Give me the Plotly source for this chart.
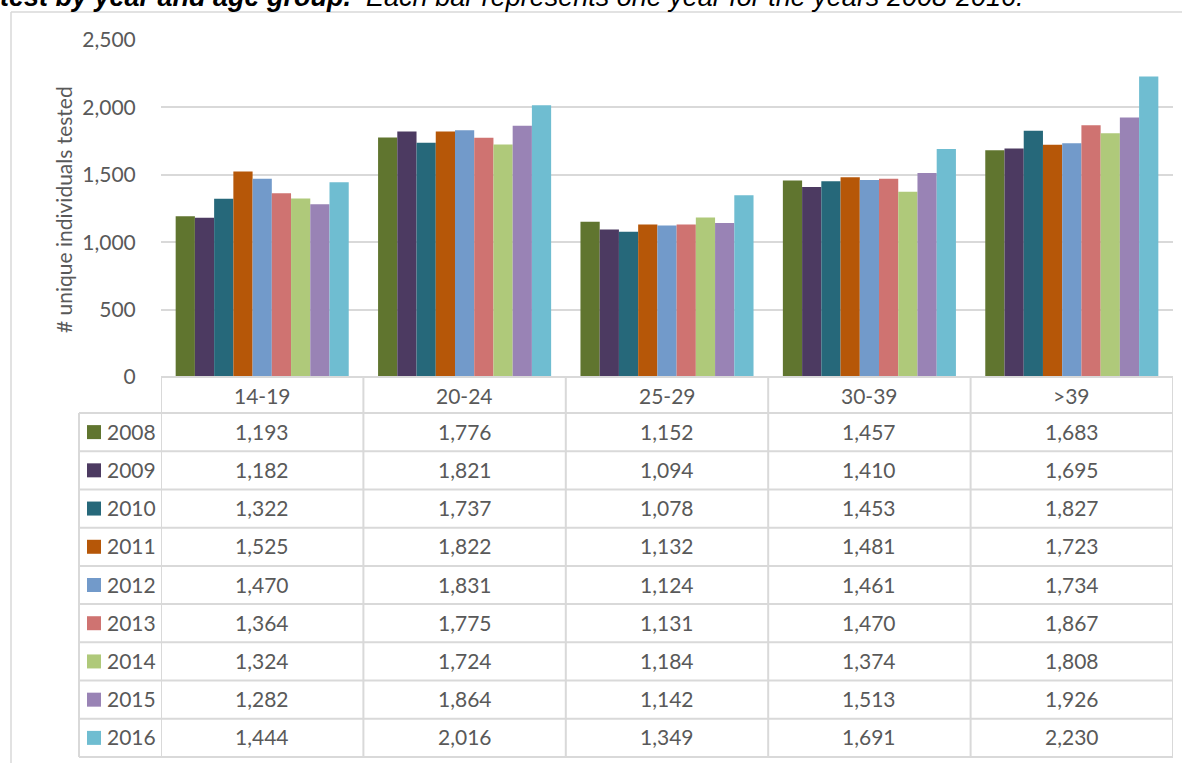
import plotly.graph_objects as go

# Data -------------------------------------------------------------------
age_groups = ["14-19", "20-24", "25-29", "30-39", ">39"]
years = ["2008", "2009", "2010", "2011", "2012", "2013", "2014", "2015", "2016"]

tested_2008 = [1193, 1776, 1152, 1457, 1683]
tested_2009 = [1182, 1821, 1094, 1410, 1695]
tested_2010 = [1322, 1737, 1078, 1453, 1827]
tested_2011 = [1525, 1822, 1132, 1481, 1723]
tested_2012 = [1470, 1831, 1124, 1461, 1734]
tested_2013 = [1364, 1775, 1131, 1470, 1867]
tested_2014 = [1324, 1724, 1184, 1374, 1808]
tested_2015 = [1282, 1864, 1142, 1513, 1926]
tested_2016 = [1444, 2016, 1349, 1691, 2230]

series = [tested_2008, tested_2009, tested_2010, tested_2011, tested_2012,
          tested_2013, tested_2014, tested_2015, tested_2016]

y_ticks = [0, 500, 1000, 1500, 2000, 2500]

colors = ["#60752F", "#4C3A61", "#26687A", "#B65708", "#729ACA",
          "#CF7371", "#AFC97A", "#9983B5", "#6FBDD1"]

# Layout helpers (pixel -> paper) ----------------------------------------
W, H = 1188, 763


def px(x):
    return x / W


def py(y):
    return 1 - y / H


PLOT_L, PLOT_R = 161, 1173
PLOT_T, PLOT_B = 40, 377
HEADER_B = 413
TABLE_B = 757
LEG_L = 79
ROW_H = (TABLE_B - HEADER_B) / len(years)

GRID = "#D9D9D9"
TXT = "#595959"
FONT = "Lato"
FS = 21

fig = go.Figure()
for yr, vals, col in zip(years, series, colors):
    fig.add_trace(go.Bar(x=age_groups, y=vals, name=yr,
                         marker=dict(color=col, line=dict(width=0))))

shapes = []
annotations = []


def hline(y, x0, x1):
    shapes.append(dict(type="line", xref="paper", yref="paper",
                       x0=px(x0), x1=px(x1), y0=py(y), y1=py(y),
                       line=dict(color=GRID, width=2)))


def vline(x, y0, y1, xref="paper"):
    xx = x if xref == "x" else px(x)
    shapes.append(dict(type="line", xref=xref, yref="paper",
                       x0=xx, x1=xx, y0=py(y0), y1=py(y1),
                       line=dict(color=GRID, width=2)))


def label(x, y, text, xref="paper", xanchor="center", **kw):
    annotations.append(dict(x=x, xref=xref, y=y, yref="paper",
                            xanchor=xanchor, yanchor="middle", text=text,
                            showarrow=False,
                            font=dict(family=FONT, size=FS, color=TXT), **kw))


# Outer frame (top and left edges)
shapes.append(dict(type="line", xref="paper", yref="paper",
                   x0=px(11), x1=px(1182), y0=py(12), y1=py(12),
                   line=dict(color=GRID, width=1.5)))
shapes.append(dict(type="line", xref="paper", yref="paper",
                   x0=px(11), x1=px(11), y0=py(12), y1=py(H + 5),
                   line=dict(color=GRID, width=1.5)))

# Data table grid
hline(PLOT_B, PLOT_L, PLOT_R)
for i in range(len(years) + 1):
    hline(HEADER_B + i * ROW_H, LEG_L, PLOT_R)
vline(LEG_L, HEADER_B, TABLE_B)
for k in range(len(age_groups) + 1):
    vline(k - 0.5, PLOT_B, TABLE_B, xref="x")

# Category header labels
for k, g in enumerate(age_groups):
    label(k, py((PLOT_B + HEADER_B) / 2), g, xref="x")

# Rows: legend key, year, values
for i, (yr, vals, col) in enumerate(zip(years, series, colors)):
    yc = HEADER_B + (i + 0.5) * ROW_H
    shapes.append(dict(type="rect", xref="paper", yref="paper",
                       x0=px(87), x1=px(101), y0=py(yc - 7), y1=py(yc + 7),
                       fillcolor=col, line=dict(width=0)))
    label(px(105), py(yc - 1), yr, xanchor="left")
    for k, v in enumerate(vals):
        label(k, py(yc - 1), f"{v:,}", xref="x")

# Y axis title
label(px(63), py(210), "# unique individuals tested", textangle=-90)

# Caption line above the chart
annotations.append(dict(
    x=px(-2), xref="paper", y=py(-3), yref="paper", xanchor="left",
    yanchor="middle", showarrow=False,
    text="<b><i>test by year and age group.</i></b><i>&nbsp; Each bar represents "
         "one year for the years 2008-2016.</i>",
    font=dict(family="Liberation Sans", size=27, color="#000000")))

fig.update_layout(
    template="none",
    width=W, height=H, autosize=False,
    margin=dict(l=0, r=0, t=0, b=0, pad=0, autoexpand=False),
    paper_bgcolor="white", plot_bgcolor="white",
    barmode="group", bargap=0.145, bargroupgap=0,
    showlegend=False,
    xaxis=dict(domain=[px(PLOT_L), px(PLOT_R)], showticklabels=False,
               showgrid=False, zeroline=False, showline=False, ticks="",
               automargin=False,
               range=[-0.5, len(age_groups) - 0.5], fixedrange=True),
    yaxis=dict(domain=[py(PLOT_B), py(PLOT_T)], range=[0, 2500],
               tickvals=y_ticks, tickformat=",", showgrid=True,
               gridcolor=GRID, gridwidth=1.5, zeroline=False, showline=False,
               ticks="outside", ticklen=20, tickcolor="rgba(0,0,0,0)",
               automargin=False,
               tickfont=dict(family=FONT, size=FS, color=TXT),
               fixedrange=True),
    shapes=shapes,
    annotations=annotations,
)

fig.write_html("out.html", config={"displayModeBar": False})
